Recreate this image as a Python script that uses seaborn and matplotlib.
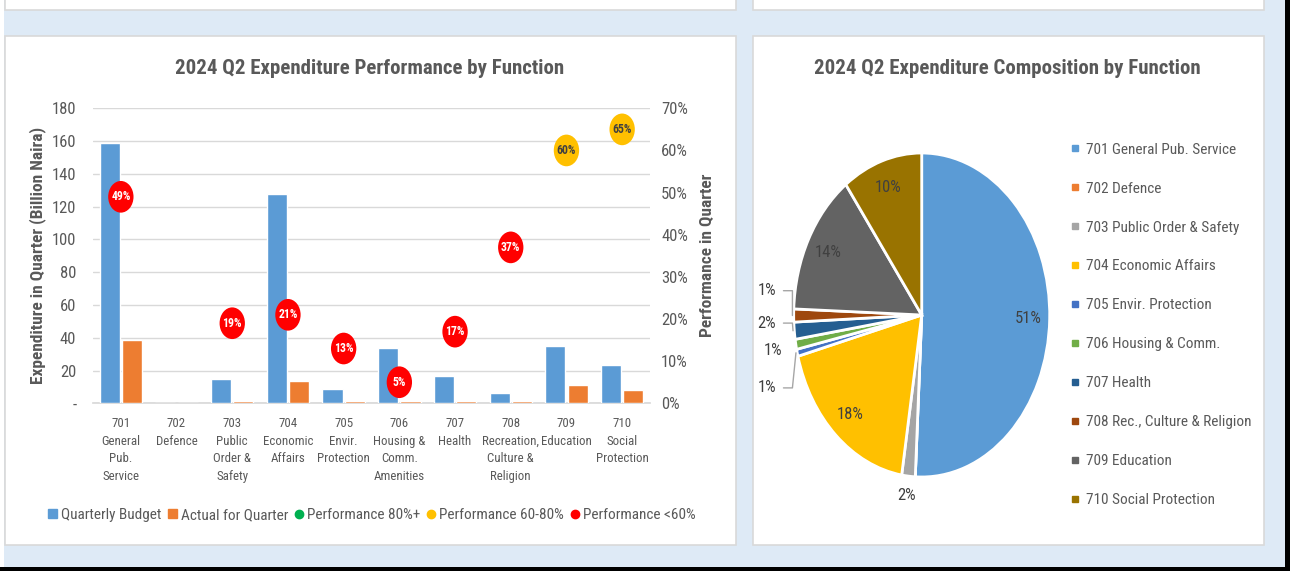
import numpy as np
import pandas as pd
import matplotlib
matplotlib.use("Agg")
import matplotlib.pyplot as plt
import seaborn as sns
from matplotlib.patches import Rectangle, Patch
from matplotlib.lines import Line2D
from matplotlib.path import Path
from matplotlib.transforms import Affine2D

# ---------------- data ----------------
categories = ["701\nGeneral\nPub.\nService", "702\nDefence", "703\nPublic\nOrder &\nSafety",
              "704\nEconomic\nAffairs", "705\nEnvir.\nProtection", "706\nHousing &\nComm.\nAmenities",
              "707\nHealth", "708\nRecreation,\nCulture &\nReligion", "709\nEducation",
              "710\nSocial\nProtection"]
quarterly_budget = [158.6, 0.0, 14.6, 127.7, 8.7, 33.9, 16.7, 6.1, 35.0, 23.4]
actual_quarter = [38.6, 0.0, 1.4, 13.6, 1.4, 1.4, 1.4, 1.4, 11.0, 8.1]
performance = [0.49, np.nan, 0.19, 0.21, 0.13, 0.05, 0.17, 0.37, 0.60, 0.65]

pie_labels = ["701 General Pub. Service", "702 Defence", "703 Public Order & Safety",
              "704 Economic Affairs", "705 Envir. Protection", "706 Housing & Comm.",
              "707 Health", "708 Rec., Culture & Religion", "709 Education",
              "710 Social Protection"]
pie_share = [50.8, 0.0, 1.7, 18.4, 0.7, 1.0, 1.7, 1.3, 14.3, 10.1]

left_ticks = [0, 20, 40, 60, 80, 100, 120, 140, 160, 180]
left_ticklabels = ["-", "20", "40", "60", "80", "100", "120", "140", "160", "180"]
right_ticks = [0, 0.1, 0.2, 0.3, 0.4, 0.5, 0.6, 0.7]
right_ticklabels = ["0%", "10%", "20%", "30%", "40%", "50%", "60%", "70%"]

# ---------------- style ----------------
sns.set_theme(style="white")
plt.rcParams["font.family"] = ["Roboto Condensed", "Liberation Sans Narrow", "Roboto",
                               "DejaVu Sans"]
TXT = "#595959"
BLUE, ORANGE = "#5B9BD5", "#ED7D31"
RED, YELLOW, GREEN = "#FF0000", "#FFC000", "#00B050"
pie_colors = ["#5B9BD5", "#ED7D31", "#A5A5A5", "#FFC000", "#4472C4",
              "#70AD47", "#255E91", "#9E480E", "#636363", "#997300"]

W, H = 1290, 571
fig = plt.figure(figsize=(W / 100, H / 100), dpi=100)
fig.patch.set_facecolor("#DEEAF6")


def px_rect(x0, y0, x1, y1, fc, ec="none", lw=0):
    fig.patches.append(Rectangle((x0 / W, 1 - y1 / H), (x1 - x0) / W, (y1 - y0) / H,
                                 transform=fig.transFigure, facecolor=fc, edgecolor=ec,
                                 linewidth=lw, zorder=-10))

# backgrounds / cards
px_rect(0, 0, 4, 571, "white")
px_rect(5, -5, 736, 10, "white", "#D9D9D9", 1.2)
px_rect(753, -5, 1264, 10, "white", "#D9D9D9", 1.2)
px_rect(5, 36, 736, 545, "white", "#D9D9D9", 1.2)
px_rect(753, 36, 1264, 545, "white", "#D9D9D9", 1.2)
px_rect(1285, 0, 1290, 571, "black")
px_rect(0, 567, 1290, 571, "black")

# ---------------- bar chart ----------------
ax = fig.add_axes([93 / W, 1 - 403.3 / H, 557 / W, 295 / H])
ax.set_facecolor("none")
df = pd.DataFrame({
    "cat": categories * 2,
    "series": ["Quarterly Budget"] * len(categories) + ["Actual for Quarter"] * len(categories),
    "value": quarterly_budget + actual_quarter,
})
sns.barplot(data=df, x="cat", y="value", hue="series", palette=[BLUE, ORANGE], saturation=1,
            width=0.8, gap=0.1, ax=ax, legend=False, zorder=3)
ax.set_ylim(0, 180)
ax.set_yticks(left_ticks)
ax.set_yticklabels(left_ticklabels, color=TXT, fontsize=12)
ax.set_xlim(-0.5, len(categories) - 0.5)
ax.set_xticks(range(len(categories)))
ax.set_xticklabels(categories, color=TXT, fontsize=9.3, linespacing=1.45)
ax.tick_params(axis="both", length=0)
ax.tick_params(axis="x", pad=10)
ax.tick_params(axis="y", pad=12)
ax.grid(axis="y", color="#D9D9D9", linewidth=1, zorder=0)
ax.set_axisbelow(True)
for s in ["top", "left", "right"]:
    ax.spines[s].set_visible(False)
ax.spines["bottom"].set_color("#D9D9D9")
ax.set_xlabel("")
ax.set_ylabel("Expenditure in Quarter (Billion Naira)", color=TXT, fontsize=12.5,
              fontweight="bold", labelpad=4)

ax2 = ax.twinx()
ax2.set_ylim(0, 0.70)
ax2.set_yticks(right_ticks)
ax2.set_yticklabels(right_ticklabels, color=TXT, fontsize=12)
ax2.tick_params(axis="y", length=0, pad=8)
for s in ["top", "left", "right", "bottom"]:
    ax2.spines[s].set_visible(False)
ax2.set_ylabel("Performance in Quarter", color=TXT, fontsize=12.5, fontweight="bold", labelpad=9)

perf_df = pd.DataFrame({"pos": np.arange(len(categories)), "perf": performance})
perf_df["band"] = np.where(perf_df["perf"] >= 0.8, "Performance 80%+",
                           np.where(perf_df["perf"] >= 0.6, "Performance 60-80%", "Performance <60%"))
perf_df = perf_df.dropna()
ell = Path.unit_circle().transformed(Affine2D().scale(0.8, 1.0))
sns.scatterplot(data=perf_df, x="pos", y="perf", hue="band",
                palette={"Performance 80%+": GREEN, "Performance 60-80%": YELLOW,
                         "Performance <60%": RED},
                marker=ell, s=520, linewidth=0, ax=ax2, legend=False, zorder=5)
for _, r in perf_df.iterrows():
    col = "white" if r["band"] == "Performance <60%" else "#404040"
    ax2.text(r["pos"], r["perf"], f"{r['perf']:.0%}", ha="center", va="center",
             fontsize=8.5, fontweight="bold", color=col, zorder=6)
ax2.set_xlabel("")

handles = [Patch(color=BLUE, label="Quarterly Budget"),
           Patch(color=ORANGE, label="Actual for Quarter"),
           Line2D([], [], marker="o", ls="", color=GREEN, markersize=6, label="Performance 80%+"),
           Line2D([], [], marker="o", ls="", color=YELLOW, markersize=6, label="Performance 60-80%"),
           Line2D([], [], marker="o", ls="", color=RED, markersize=6, label="Performance <60%")]
fig.legend(handles=handles, loc="center", bbox_to_anchor=(372 / W, 1 - 515 / H), ncol=5,
           frameon=False, fontsize=11, handlelength=0.6, handleheight=0.6,
           handletextpad=0.25, columnspacing=0.4, labelcolor=TXT)

fig.text(370 / W, 1 - 68 / H, "2024 Q2 Expenditure Performance by Function", ha="center",
         va="center", fontsize=15, fontweight="bold", color=TXT)

# ---------------- pie chart ----------------
cx, cy, rx, ry = 921.7, 315.0, 128.0, 162.0
lim = 1.3
pax = fig.add_axes([(cx - lim * rx) / W, 1 - (cy + lim * ry) / H, 2 * lim * rx / W, 2 * lim * ry / H])
wedges, _ = pax.pie(pie_share, colors=pie_colors, startangle=90, counterclock=False,
                    wedgeprops=dict(edgecolor="white", linewidth=2))
pax.set_aspect("auto")
pax.set_xlim(-lim, lim)
pax.set_ylim(-lim, lim)
pax.axis("off")

LBL = "#404040"
small_text = {4: (-1.21, -0.45), 5: (-1.16, -0.22), 6: (-1.21, -0.05), 7: (-1.21, 0.15)}
for i, w in enumerate(wedges):
    if pie_share[i] <= 0:
        continue
    mid = np.deg2rad((w.theta1 + w.theta2) / 2)
    txt = f"{pie_share[i]:.0f}%"
    if i in small_text:
        tx, ty = small_text[i]
        pax.text(tx, ty, txt, ha="center", va="center", fontsize=12, color=LBL)
        ex, ey = 1.0 * np.cos(mid), 1.0 * np.sin(mid)
        if i != 5:
            pax.plot([tx + 0.13, tx + 0.2, ex - 0.01], [ty, ty, ey], color="#A6A6A6", lw=1)
    elif pie_share[i] < 5:
        pax.text(1.12 * np.cos(mid), 1.12 * np.sin(mid), txt, ha="center", va="center",
                 fontsize=12, color=LBL)
    else:
        pax.text(0.83 * np.cos(mid), 0.83 * np.sin(mid), txt, ha="center", va="center",
                 fontsize=12, color=LBL)

pie_handles = [Line2D([], [], marker="s", ls="", color=c, markersize=5, label=l)
               for c, l in zip(pie_colors, pie_labels)]
fig.legend(handles=pie_handles, loc="upper left", bbox_to_anchor=(1057 / W, 1 - 129 / H),
           frameon=False, fontsize=11, labelspacing=1.63, handlelength=0.6,
           handletextpad=0.4, labelcolor=TXT)

fig.text(1007 / W, 1 - 68 / H, "2024 Q2 Expenditure Composition by Function", ha="center",
         va="center", fontsize=15, fontweight="bold", color=TXT)

fig.savefig("out.png", dpi=100, facecolor=fig.get_facecolor())
